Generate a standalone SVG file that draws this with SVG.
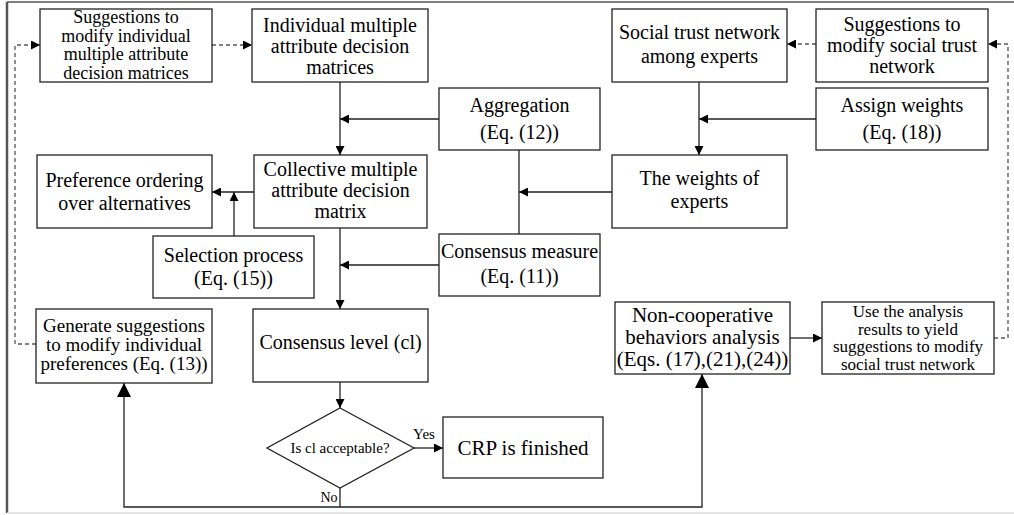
<svg xmlns="http://www.w3.org/2000/svg" width="1014" height="515" viewBox="0 0 1014 515">
<style>
.box{fill:#fff;stroke:#222;stroke-width:1.3}
text{font-family:"Liberation Serif","Times New Roman",serif;fill:#000;text-anchor:middle}
.t20{font-size:20px}
.t18{font-size:18px}
.t17{font-size:17px}
.t19{font-size:19px}
.ln{fill:none;stroke:#222;stroke-width:1.3}
.ds{fill:none;stroke:#555;stroke-width:1.3;stroke-dasharray:4,3}
</style>
<defs>
<marker id="a" viewBox="0 0 10 10" refX="10" refY="5" markerWidth="10" markerHeight="9" markerUnits="userSpaceOnUse" orient="auto"><path d="M0,0 L10,5 L0,10 z" fill="#000"/></marker>
<marker id="b" viewBox="0 0 10 10" refX="10" refY="5" markerWidth="14" markerHeight="14" markerUnits="userSpaceOnUse" orient="auto"><path d="M0,0 L10,5 L0,10 z" fill="#000"/></marker>
</defs>
<g id="frame">
<line x1="7" y1="2" x2="1014" y2="2" stroke="#555" stroke-width="1.5"/>
<line x1="7" y1="2" x2="7" y2="513" stroke="#555" stroke-width="2.5"/>
<line x1="7" y1="513" x2="1014" y2="513" stroke="#ddd" stroke-width="1.5"/>
</g>
<g id="connectors">
<path class="ln" d="M340,82 V155" marker-end="url(#a)"/>
<path class="ln" d="M439,119 H340" marker-end="url(#a)"/>
<path class="ln" d="M519,150 V234"/>
<path class="ln" d="M612,192 H519" marker-end="url(#a)"/>
<path class="ln" d="M699,82 V155" marker-end="url(#a)"/>
<path class="ln" d="M816,119 H699" marker-end="url(#a)"/>
<path class="ln" d="M254,192 H212" marker-end="url(#a)"/>
<path class="ln" d="M234,236 V192" marker-end="url(#a)"/>
<path class="ln" d="M340,228 V309" marker-end="url(#a)"/>
<path class="ln" d="M439,265 H340" marker-end="url(#a)"/>
<path class="ln" d="M340,382 V408" marker-end="url(#a)"/>
<path class="ln" d="M414,448 H443" marker-end="url(#a)"/>
<path class="ln" d="M340,488 V507"/>
<path class="ln" d="M340,507 H124 V383" marker-end="url(#b)"/>
<path class="ln" d="M340,507 H702 V374" marker-end="url(#b)"/>
<path class="ln" d="M790,338 H822" marker-end="url(#a)"/>
<path class="ds" d="M36,344 H15 V45 H40" marker-end="url(#a)"/>
<path class="ds" d="M212,45 H252" marker-end="url(#a)"/>
<path class="ds" d="M994,338 H1008 V44 H988" marker-end="url(#a)"/>
<path class="ds" d="M816,44 H787" marker-end="url(#a)"/>
<text x="424" y="439" style="font-size:15px">Yes</text>
<text x="329" y="502" style="font-size:14px">No</text>
</g>
<g id="n1"><rect class="box" x="40" y="9" width="172" height="73"/>
<text class="t18" x="126" y="23">Suggestions to</text><text class="t18" x="126" y="41.5">modify individual</text><text class="t18" x="126" y="60">multiple attribute</text><text class="t18" x="126" y="78.5">decision matrices</text></g>
<g id="n2"><rect class="box" x="252" y="9" width="176" height="73"/>
<text class="t20" x="340" y="32">Individual multiple</text><text class="t20" x="340" y="53">attribute decision</text><text class="t20" x="340" y="74">matrices</text></g>
<g id="n3"><rect class="box" x="439" y="88" width="161" height="62"/>
<text class="t20" x="519.5" y="112">Aggregation</text><text class="t20" x="519.5" y="139">(Eq. (12))</text></g>
<g id="n4"><rect class="box" x="612" y="9" width="175" height="73"/>
<text class="t20" x="699.5" y="39">Social trust network</text><text class="t20" x="699.5" y="63">among experts</text></g>
<g id="n5"><rect class="box" x="816" y="9" width="172" height="73"/>
<text class="t20" x="902" y="31">Suggestions to</text><text class="t20" x="902" y="52">modify social trust</text><text class="t20" x="902" y="73">network</text></g>
<g id="n6"><rect class="box" x="816" y="88" width="172" height="62"/>
<text class="t20" x="902" y="112">Assign weights</text><text class="t20" x="902" y="139">(Eq. (18))</text></g>
<g id="n7"><rect class="box" x="254" y="155" width="173" height="73"/>
<text class="t20" x="340.5" y="176">Collective multiple</text><text class="t20" x="340.5" y="197">attribute decision</text><text class="t20" x="340.5" y="218">matrix</text></g>
<g id="n8"><rect class="box" x="37" y="155" width="175" height="73"/>
<text class="t20" x="124.5" y="187">Preference ordering</text><text class="t20" x="124.5" y="210">over alternatives</text></g>
<g id="n9"><rect class="box" x="612" y="155" width="175" height="73"/>
<text class="t20" x="699.5" y="185">The weights of</text><text class="t20" x="699.5" y="208">experts</text></g>
<g id="n10"><rect class="box" x="153" y="236" width="161" height="62"/>
<text class="t20" x="233.5" y="262">Selection process</text><text class="t20" x="233.5" y="285">(Eq. (15))</text></g>
<g id="n11"><rect class="box" x="439" y="234" width="161" height="62"/>
<text class="t20" x="519.5" y="258">Consensus measure</text><text class="t20" x="519.5" y="283">(Eq. (11))</text></g>
<g id="n12"><rect class="box" x="36" y="309" width="176" height="74"/>
<text class="t19" x="124" y="332">Generate suggestions</text><text class="t19" x="124" y="351">to modify individual</text><text class="t19" x="124" y="370">preferences (Eq. (13))</text></g>
<g id="n13"><rect class="box" x="253" y="309" width="175" height="73"/>
<text class="t20" x="340.5" y="349">Consensus level (cl)</text></g>
<g id="n14"><rect class="box" x="615" y="302" width="175" height="72"/>
<text x="702.5" y="322" style="font-size:21px">Non-cooperative</text><text x="702.5" y="344" style="font-size:21px">behaviors analysis</text><text x="702.5" y="366" style="font-size:21px">(Eqs. (17),(21),(24))</text></g>
<g id="n15"><rect class="box" x="822" y="302" width="172" height="72"/>
<text class="t17" x="908" y="317">Use the analysis</text><text class="t17" x="908" y="334.5">results to yield</text><text class="t17" x="908" y="352">suggestions to modify</text><text class="t17" x="908" y="369.5">social trust network</text></g>
<g id="n16"><path class="box" d="M340,408 L414,448 L340,488 L267,448 Z"/>
<text x="340" y="453" style="font-size:15px">Is cl acceptable?</text></g>
<g id="n17"><rect class="box" x="443" y="417" width="160" height="61"/>
<text x="523" y="455" style="font-size:21px">CRP is finished</text></g>
</svg>
